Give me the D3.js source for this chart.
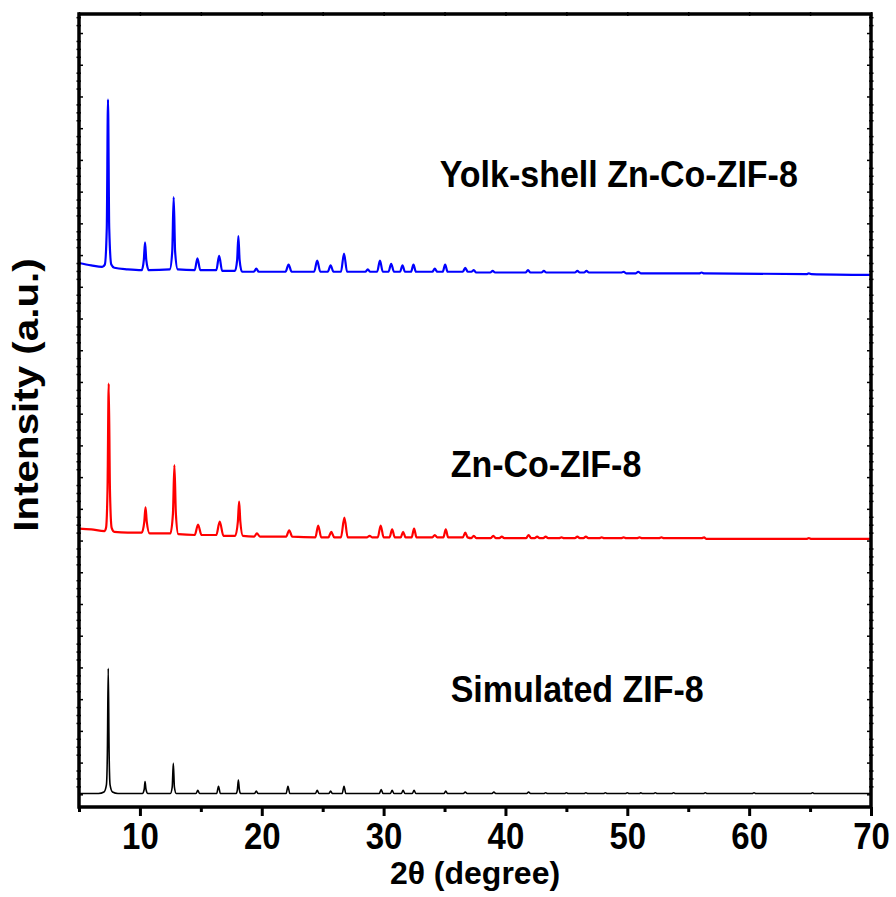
<!DOCTYPE html>
<html>
<head>
<meta charset="utf-8">
<script src="https://cdn.jsdelivr.net/npm/d3@7"></script>
<style>
  body { margin: 0; background: #fff; }
  text { font-family: "Liberation Sans", Arial, sans-serif; font-weight: bold; fill: #000; }
</style>
</head>
<body>
<div class="chart"></div>
<script>
// tick values
const xMajor = [10, 20, 30, 40, 50, 60, 70];
const xMinor = [5, 15, 25, 35, 45, 55, 65];
const yMajor = d3.range(16, 1000, 40);
const yMinor = d3.range(16, 1000, 10).filter(v => (v - 16) % 40 !== 0);

// series labels
const labels = ["Yolk-shell Zn-Co-ZIF-8", "Zn-Co-ZIF-8", "Simulated ZIF-8"];

// [2theta, intensity (a.u., stacked)]
const yolkShell = [
  [5, 686], [6, 683], [6.9, 681], [7.12, 684], [7.28, 730], [7.38, 892], [7.48, 730], [7.65, 684], [7.9, 680],
  [9.0, 678], [10.15, 677], [10.32, 690], [10.42, 712], [10.52, 690], [10.72, 677],
  [12.45, 678], [12.65, 700], [12.77, 769], [12.89, 700], [13.1, 678],
  [14.5, 677], [14.72, 692], [14.95, 677],
  [16.27, 677], [16.5, 695], [16.75, 676],
  [17.8, 676], [17.98, 690], [18.08, 720], [18.18, 690], [18.38, 675],
  [19.35, 675], [19.55, 679], [19.75, 675],
  [21.95, 675], [22.2, 684], [22.45, 675],
  [24.3, 675], [24.55, 689], [24.8, 675],
  [25.42, 675], [25.65, 683], [25.88, 675],
  [26.5, 675], [26.75, 698], [27.0, 675],
  [28.5, 675], [28.7, 678], [28.9, 675],
  [29.47, 675], [29.7, 689], [29.93, 675],
  [30.4, 675], [30.62, 685], [30.85, 675],
  [31.35, 675], [31.55, 683], [31.75, 675],
  [32.25, 675], [32.45, 684], [32.65, 675],
  [34.0, 675], [34.2, 679], [34.4, 675],
  [34.85, 675], [35.05, 684], [35.25, 675],
  [36.5, 675], [36.7, 680], [36.9, 675],
  [37.2, 675], [37.4, 677], [37.6, 674],
  [38.75, 674], [38.95, 676], [39.15, 674],
  [41.65, 674], [41.85, 677], [42.05, 674],
  [42.95, 674], [43.15, 676], [43.35, 674],
  [45.7, 674], [45.9, 676], [46.1, 674],
  [46.45, 674], [46.65, 676], [46.85, 674],
  [49.5, 674], [49.7, 675], [49.9, 673],
  [50.7, 673], [50.9, 675], [51.1, 673],
  [55.9, 673], [56.1, 674], [56.3, 673],
  [64.7, 672], [64.9, 673], [65.1, 672],
  [70, 671]
];

const znCo = [
  [5, 351], [6, 350], [7.1, 348], [7.22, 352], [7.34, 400], [7.44, 534], [7.54, 400], [7.68, 352], [7.9, 347],
  [9.0, 346], [10.15, 346], [10.36, 360], [10.46, 378], [10.56, 360], [10.8, 345],
  [12.5, 345], [12.71, 370], [12.83, 431], [12.95, 370], [13.15, 344],
  [14.5, 343], [14.77, 356], [15.05, 343],
  [16.27, 343], [16.55, 360], [16.85, 342],
  [17.82, 342], [18.04, 360], [18.14, 385], [18.24, 360], [18.45, 342],
  [19.38, 341], [19.6, 345], [19.85, 341],
  [22.0, 341], [22.25, 349], [22.5, 341],
  [24.4, 340], [24.63, 355], [24.88, 340],
  [25.47, 340], [25.7, 347], [25.95, 340],
  [26.5, 340], [26.78, 365], [27.05, 340],
  [28.65, 340], [28.85, 342], [29.05, 340],
  [29.52, 340], [29.76, 355], [30.0, 340],
  [30.48, 340], [30.7, 350], [30.92, 340],
  [31.4, 340], [31.6, 347], [31.8, 340],
  [32.3, 340], [32.5, 351], [32.7, 340],
  [34.0, 340], [34.2, 343], [34.4, 340],
  [34.9, 340], [35.1, 350], [35.3, 340],
  [36.5, 340], [36.7, 346], [36.9, 340],
  [37.2, 339], [37.4, 342], [37.6, 339],
  [38.8, 339], [39.0, 342], [39.2, 339],
  [39.5, 339], [39.7, 341], [39.9, 339],
  [41.7, 339], [41.9, 343], [42.1, 339],
  [42.4, 339], [42.6, 341], [42.8, 339],
  [43.1, 339], [43.3, 341], [43.5, 339],
  [44.4, 339], [44.6, 340], [44.8, 339],
  [45.7, 339], [45.9, 341], [46.1, 339],
  [46.4, 339], [46.6, 341], [46.8, 339],
  [47.7, 339], [47.9, 340], [48.1, 339],
  [49.5, 339], [49.7, 340], [49.9, 339],
  [50.8, 339], [51.0, 340], [51.2, 339],
  [52.6, 339], [52.8, 340], [53.0, 339],
  [56.1, 339], [56.3, 340], [56.5, 338],
  [64.7, 338], [64.9, 339], [65.1, 338],
  [70, 338]
];

const simulated = [
  [5, 17], [6.6, 17], [7.05, 19], [7.25, 28], [7.33, 70], [7.4, 175], [7.47, 70], [7.55, 28], [7.75, 19], [8.2, 17],
  [10.2, 17], [10.35, 22], [10.42, 32], [10.5, 22], [10.65, 17],
  [12.5, 17], [12.65, 25], [12.74, 55], [12.83, 25], [12.98, 17],
  [14.6, 17], [14.75, 21], [14.9, 17],
  [16.3, 17], [16.45, 26], [16.6, 17],
  [17.9, 17], [18.0, 22], [18.08, 34], [18.16, 22], [18.26, 17],
  [19.4, 17], [19.55, 20], [19.7, 17],
  [22.0, 17], [22.15, 26], [22.3, 17],
  [24.4, 17], [24.55, 21], [24.7, 17],
  [25.5, 17], [25.65, 20], [25.8, 17],
  [26.6, 17], [26.75, 26], [26.9, 17],
  [29.65, 17], [29.8, 22], [29.95, 17],
  [30.55, 17], [30.7, 21], [30.85, 17],
  [31.45, 17], [31.6, 21], [31.75, 17],
  [32.35, 17], [32.5, 21], [32.65, 17],
  [34.95, 17], [35.1, 20], [35.25, 17],
  [36.55, 17], [36.7, 19], [36.85, 17],
  [38.9, 17], [39.05, 19], [39.2, 17],
  [41.75, 17], [41.9, 19], [42.05, 17],
  [43.15, 17], [43.3, 18], [43.45, 17],
  [44.85, 17], [45.0, 18], [45.15, 17],
  [46.45, 17], [46.6, 18], [46.75, 17],
  [48.05, 17], [48.2, 18], [48.35, 17],
  [49.85, 17], [50.0, 18], [50.15, 17],
  [51.0, 17], [51.1, 18], [51.25, 17],
  [52.15, 17], [52.3, 18], [52.45, 17],
  [53.65, 17], [53.8, 18], [53.95, 17],
  [56.25, 17], [56.4, 18], [56.55, 17],
  [60.25, 17], [60.4, 18], [60.55, 17],
  [65.05, 17], [65.2, 18], [65.35, 17],
  [70, 17]
];

const series = [
  { name: labels[0], values: yolkShell, color: "#0000ff", width: 2.2 },
  { name: labels[1], values: znCo, color: "#ff0000", width: 2.2 },
  { name: labels[2], values: simulated, color: "#000000", width: 1.6 }
];

const W = 896, H = 897;
const margin = { top: 14, left: 79, right: 25, bottom: 90 };
const width = W - margin.left - margin.right;
const height = H - margin.top - margin.bottom;
const stretch = 1.1; // the original figure is slightly stretched vertically

const svg = d3.select(".chart").append("svg")
  .attr("width", W)
  .attr("height", H);

const g = svg.append("g")
  .attr("transform", `translate(${margin.left},${margin.top})`);

const x = d3.scaleLinear().domain([5, 70]).range([0, width]);
const y = d3.scaleLinear().domain([0, 1000]).range([height, 0]);

const line = d3.line()
  .x(d => x(d[0]))
  .y(d => y(d[1]))
  .curve(d3.curveMonotoneX);

g.selectAll(".pattern")
  .data(series)
  .enter()
  .append("path")
  .attr("class", "pattern")
  .attr("fill", "none")
  .attr("stroke", d => d.color)
  .attr("stroke-width", d => d.width)
  .attr("stroke-linejoin", "round")
  .attr("d", d => line(d.values));

function styleAxis(sel) {
  sel.select(".domain").remove();
  sel.selectAll(".tick line").attr("stroke", "#000").attr("stroke-width", 3);
}

// bottom axis
g.append("g")
  .attr("transform", `translate(0,${height})`)
  .call(d3.axisBottom(x).tickValues(xMajor).tickSize(9).tickFormat(d3.format("d")))
  .call(styleAxis)
  .call(a => a.selectAll("text")
    .attr("y", 0)
    .attr("transform", `translate(0,16) scale(1,${stretch})`)
    .attr("font-size", 33)
    .attr("font-family", '"Liberation Sans", Arial, sans-serif')
    .attr("font-weight", "bold"));

g.append("g")
  .attr("transform", `translate(0,${height})`)
  .call(d3.axisBottom(x).tickValues(xMinor).tickSize(5).tickFormat(""))
  .call(styleAxis);

// top axis, short ticks
g.append("g")
  .call(d3.axisTop(x).tickValues(xMajor.concat(xMinor)).tickSize(2).tickFormat(""))
  .call(styleAxis)
  .call(a => a.selectAll(".tick line").attr("stroke-width", 1.5).attr("y1", 2));

// left and right axes
[0, width].forEach((pos, i) => {
  const ax = i === 0 ? d3.axisLeft(y) : d3.axisRight(y);
  g.append("g")
    .attr("transform", `translate(${pos},0)`)
    .call(ax.tickValues(yMajor).tickSize(-4).tickFormat(""))
    .call(styleAxis)
    .call(a => a.selectAll(".tick line").attr("stroke-width", 1.5));
  g.append("g")
    .attr("transform", `translate(${pos},0)`)
    .call(ax.tickValues(yMinor).tickSize(2.5).tickFormat(""))
    .call(styleAxis)
    .call(a => a.selectAll(".tick line").attr("stroke-width", 1.5)
      .attr("x1", i === 0 ? 2 : -2));
});

// frame
g.append("rect")
  .attr("x", 0)
  .attr("y", 0)
  .attr("width", width)
  .attr("height", height)
  .attr("fill", "none")
  .attr("stroke", "#000")
  .attr("stroke-width", 3.5);

// series labels: [2theta, intensity] of each label's baseline start
const labelPos = [[34.6, 782], [35.5, 416], [35.5, 132]];
g.selectAll(".series-label")
  .data(labels)
  .enter()
  .append("text")
  .attr("class", "series-label")
  .attr("transform", (d, i) => `translate(${x(labelPos[i][0])},${y(labelPos[i][1])}) scale(1,${stretch})`)
  .attr("font-size", 34)
  .text(d => d);

// axis titles
svg.append("text")
  .attr("x", margin.left + width / 2)
  .attr("y", 884)
  .attr("text-anchor", "middle")
  .attr("font-size", 32)
  .text("2θ (degree)");

svg.append("text")
  .attr("transform", `translate(38,${margin.top + 381}) rotate(-90) scale(1.12,1)`)
  .attr("text-anchor", "middle")
  .attr("font-size", 36)
  .text("Intensity (a.u.)");
</script>
</body>
</html>
